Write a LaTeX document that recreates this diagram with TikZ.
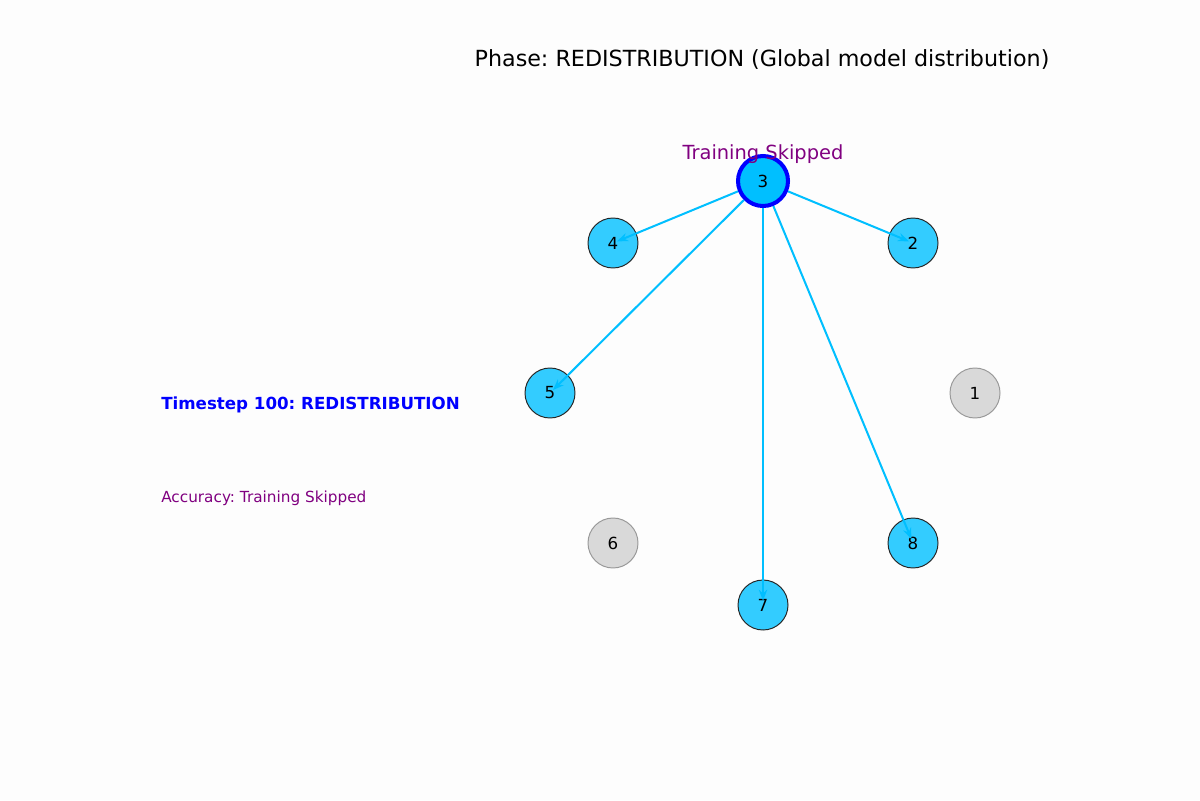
\documentclass[tikz,border=0pt]{standalone}
\usepackage{fontspec}
\setmainfont{DejaVu Sans}
\usetikzlibrary{arrows.meta}
\definecolor{actfill}{HTML}{33CCFF}
\definecolor{srcfill}{HTML}{00BFFF}
\definecolor{edgecol}{HTML}{00BFFF}
\definecolor{idlefill}{HTML}{D9D9D9}
\definecolor{idledraw}{HTML}{999999}
\definecolor{purp}{HTML}{800080}
\definecolor{bg}{HTML}{FDFDFD}
\tikzset{
  peer/.style={circle, minimum size=36pt, inner sep=0pt, font=\fontsize{12}{14}\selectfont},
  active/.style={peer, fill=actfill, draw=black!85, line width=0.7pt},
  idle/.style={peer, fill=idlefill, draw=idledraw, line width=0.7pt},
  source/.style={peer, fill=srcfill, draw=blue, line width=2.9pt},
  sendedge/.style={draw=edgecol, line width=1.45pt, shorten >=3pt,
    -{Stealth[length=8pt,width=6pt]}},
}
\begin{document}
\frenchspacing
\begin{tikzpicture}[x=0.72pt,y=-0.72pt]
\fill[bg] (0,0) rectangle (1200,800);
\useasboundingbox (0,0) rectangle (1200,800);
\node[font=\fontsize{16}{19}\selectfont] (title) at (762,60) {Phase: REDISTRIBUTION (Global model distribution)};
\node[active] (n2) at (913,243) {2};
\node[idle]   (n1) at (975,393) {1};
\node[active] (n8) at (913,543) {8};
\node[active] (n7) at (763,605) {7};
\node[idle]   (n6) at (613,543) {6};
\node[active] (n5) at (550,393) {5};
\node[active] (n4) at (613,243) {4};
\node[source] (n3) at (763,181) {3};
\foreach \t in {n2,n4,n5,n7,n8}{
  \path[sendedge] (n3) -- (\t.center);
}
\node[text=purp, font=\fontsize{14}{16}\selectfont] (lbl3) at (763,154) {Training Skipped};
\node[anchor=west, inner sep=0pt, text=blue, font=\fontsize{12}{14}\selectfont\bfseries] (ts) at (161,405) {Timestep 100: REDISTRIBUTION};
\node[anchor=west, inner sep=0pt, text=purp, font=\fontsize{11}{13}\selectfont] (acc) at (161,498) {Accuracy: Training Skipped};
\end{tikzpicture}
\end{document}
